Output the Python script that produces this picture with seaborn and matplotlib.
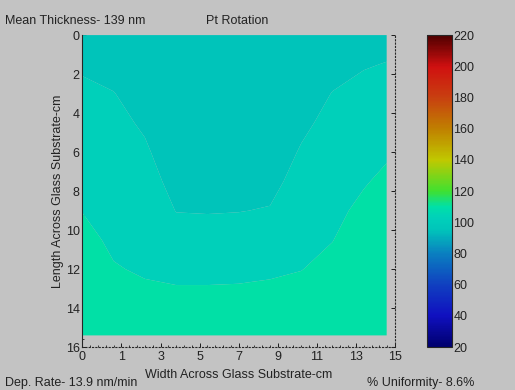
import numpy as np
import pandas as pd
import seaborn as sns
import matplotlib
matplotlib.use("Agg")
import matplotlib.pyplot as plt
from matplotlib.colors import LinearSegmentedColormap, Normalize
from matplotlib.ticker import AutoMinorLocator
import matplotlib.colorbar as mcolorbar

# ---- data (thickness estimates, nm) ----
x_pos = [0, 1.5, 3, 4.5, 6, 7.5, 9, 10.5, 12, 13.5, 14.6]
y_pos = [0, 1.5, 3, 4.5, 6, 7.5, 9, 10.5, 12, 13.5, 15.4]
# one list per x column, values down the y direction
col_0    = [98.0, 99.4, 100.9, 101.8, 102.7, 103.6, 104.9, 106.3, 107.5, 108.5, 109.0]
col_1_5  = [97.5, 98.8, 100.1, 101.0, 101.8, 102.6, 103.4, 104.2, 105.3, 107.0, 108.5]
col_3    = [96.5, 97.5, 98.5, 99.5, 100.5, 101.5, 102.5, 103.5, 104.5, 106.0, 108.0]
col_4_5  = [95.5, 96.0, 96.6, 97.2, 97.9, 98.8, 99.9, 101.6, 103.8, 106.0, 107.5]
col_6    = [95.2, 95.7, 96.3, 96.9, 97.6, 98.5, 99.8, 101.5, 103.8, 106.0, 107.5]
col_7_5  = [95.2, 95.8, 96.5, 97.1, 97.8, 98.8, 99.9, 101.7, 103.9, 106.1, 107.8]
col_9    = [95.5, 96.0, 96.6, 97.3, 98.1, 99.0, 100.2, 102.0, 104.3, 106.3, 108.0]
col_10_5 = [96.8, 97.6, 98.4, 99.3, 100.3, 101.3, 102.3, 103.4, 104.9, 106.5, 108.5]
col_12   = [97.8, 98.9, 100.1, 101.0, 101.9, 102.8, 103.8, 104.9, 106.2, 107.5, 109.0]
col_13_5 = [98.8, 99.8, 100.8, 101.9, 103.1, 104.6, 106.1, 107.3, 108.2, 109.0, 109.5]
col_14_6 = [99.0, 100.1, 101.2, 102.5, 104.4, 106.0, 107.2, 108.0, 108.8, 109.3, 109.6]
contour_levels = [90, 100, 105, 115]

x_tick_labels = ["0", "1", "3", "5", "7", "9", "11", "13", "15"]
y_tick_labels = ["0", "2", "4", "6", "8", "10", "12", "14", "16"]
cbar_ticks = [20, 40, 60, 80, 100, 120, 140, 160, 180, 200, 220]
cmap_values = [20, 40, 60, 80, 95, 102.5, 110, 120, 140, 160, 180, 200, 220]
cmap_colors = ["#00006e", "#1010c0", "#1040c0", "#0a80c0", "#00c4ba", "#00d0ba",
               "#00e0a8", "#40e030", "#c0c800", "#c08000", "#c84010", "#d01010", "#500000"]

title_left = "Mean Thickness- 139 nm"
title_center = "Pt Rotation"
footer_left = "Dep. Rate- 13.9 nm/min"
footer_right = "% Uniformity- 8.6%"
xlabel = "Width Across Glass Substrate-cm"
ylabel = "Length Across Glass Substrate-cm"

# ---- build table ----
cols = [col_0, col_1_5, col_3, col_4_5, col_6, col_7_5, col_9, col_10_5, col_12, col_13_5, col_14_6]
df = pd.DataFrame(np.array(cols).T, index=y_pos, columns=x_pos)

sns.set_theme(style="ticks")
bg = "#c3c3c3"
plt.rcParams["font.family"] = ["Liberation Sans", "DejaVu Sans"]
plt.rcParams["figure.facecolor"] = bg
plt.rcParams["axes.facecolor"] = bg

fig = plt.figure(figsize=(5.15, 3.9), dpi=100)
ax = fig.add_axes([0.160, 0.110, 0.607, 0.800])
cax = fig.add_axes([0.829, 0.110, 0.049, 0.800])

vmin, vmax = cbar_ticks[0], cbar_ticks[-1]
cmap = LinearSegmentedColormap.from_list(
    "mjet", list(zip([(v - vmin) / (vmax - vmin) for v in cmap_values], cmap_colors)))
norm = Normalize(vmin=vmin, vmax=vmax)

X, Y = np.meshgrid(df.columns.values.astype(float), df.index.values.astype(float))
ax.contourf(X, Y, df.values, levels=contour_levels, cmap=cmap, norm=norm, antialiased=True)

ax.set_xlim(0, 15)
ax.set_ylim(16, 0)
ax.set_xticks(np.linspace(0, 15, len(x_tick_labels)))
ax.set_xticklabels(x_tick_labels)
ax.set_yticks(np.linspace(0, 16, len(y_tick_labels)))
ax.set_yticklabels(y_tick_labels)
ax.xaxis.set_minor_locator(AutoMinorLocator(5))
ax.yaxis.set_minor_locator(AutoMinorLocator(5))
tc = "#222222"
ax.tick_params(axis="both", which="both", direction="in", colors="black",
               labelcolor=tc, labelsize=9)
ax.tick_params(axis="x", pad=3)
ax.tick_params(axis="y", pad=2)
ax.tick_params(which="major", length=3, width=0.6)
ax.tick_params(which="minor", length=1.5, width=0.5)
ax.tick_params(axis="y", right=True, which="major")
ax.tick_params(axis="y", which="minor", right=False)
for s in ["bottom", "right"]:
    ax.spines[s].set_linestyle((0, (1, 2)))
    ax.spines[s].set_linewidth(0.8)
ax.spines["left"].set_linewidth(0.8)
ax.spines["top"].set_visible(False)

ax.set_xlabel(xlabel, fontsize=9, color=tc, labelpad=4)
ax.set_ylabel(ylabel, fontsize=9, color=tc, labelpad=1)

cb = mcolorbar.ColorbarBase(cax, cmap=cmap, norm=norm, orientation="vertical")
cb.set_ticks(cbar_ticks)
cb.ax.tick_params(direction="in", length=3, width=0.6, labelsize=9,
                  labelcolor=tc, pad=1)
cb.outline.set_linewidth(0.8)

fig.text(0.010, 0.945, title_left, fontsize=9, color=tc, ha="left", va="center")
fig.text(0.460, 0.945, title_center, fontsize=9, color=tc, ha="center", va="center")
fig.text(0.010, 0.018, footer_left, fontsize=9, color=tc, ha="left", va="center")
fig.text(0.712, 0.018, footer_right, fontsize=9, color=tc, ha="left", va="center")

fig.savefig("out.png", dpi=100, facecolor=bg)
